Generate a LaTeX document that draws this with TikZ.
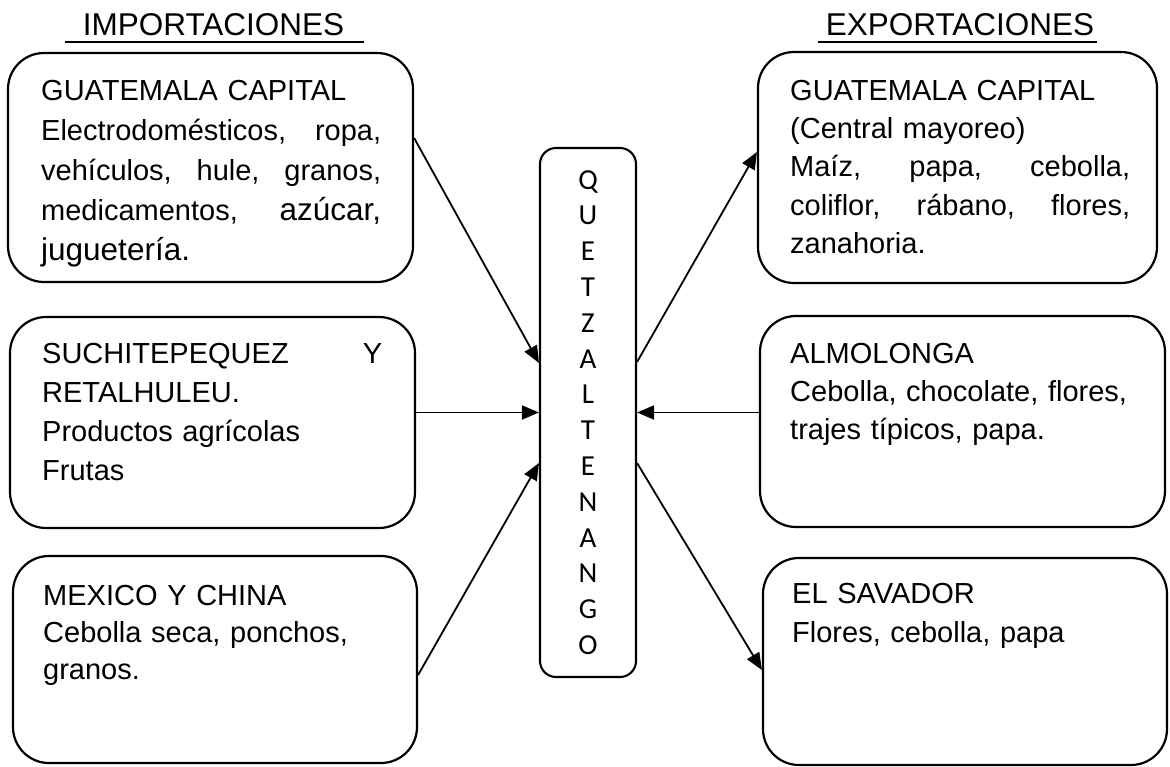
\documentclass[tikz,border=0pt]{standalone}
\usepackage{fontspec}
\setmainfont{Liberation Sans}
\newfontfamily\calfont{Carlito}
\usetikzlibrary{arrows.meta}
\newcommand{\jl}[1]{\makebox[340pt][l]{#1}}
\newcommand{\bigf}{\fontsize{31.5}{39}\selectfont}
\newcommand{\st}{\noindent\rule{0pt}{22pt}}
\begin{document}
\begin{tikzpicture}[x=1pt,y=-1pt,
  box/.style={draw, line width=2.2pt, rounded corners=36pt, inner sep=0pt},
  qbox/.style={draw, line width=2.1pt, rounded corners=16pt, inner sep=0pt, align=center,
    font=\calfont\fontsize{29}{35.8}\selectfont},
  txt/.style={anchor=north west, inner sep=0pt, text width=345pt},
  f39/.style={font=\fontsize{29}{39}\selectfont},
  f40/.style={font=\fontsize{29}{40}\selectfont},
  f38/.style={font=\fontsize{29}{38.3}\selectfont},
  f37/.style={font=\fontsize{29}{37}\selectfont},
  ttl/.style={inner sep=0pt, anchor=base, font=\fontsize{31.5}{36}\selectfont},
  arr/.style={line width=1.8pt, -{Triangle[length=17pt,width=14pt]}},
  ul/.style={line width=2pt}]
\useasboundingbox (0,0) rectangle (1170,766);

% titles
\node[ttl] (T1) at (213.5,35) {IMPORTACIONES};
\draw[ul] ([xshift=-18pt,yshift=-7pt]T1.base west) -- ([xshift=20pt,yshift=-7pt]T1.base east);
\node[ttl] (T2) at (960,35) {EXPORTACIONES};
\draw[ul] ([xshift=-8pt,yshift=-7pt]T2.base west) -- ([xshift=3pt,yshift=-7pt]T2.base east);

% boxes
\node[box, minimum width=405pt, minimum height=229pt] (L1) at (210.5,167.5) {};
\node[box, minimum width=405pt, minimum height=211pt] (L2) at (212.5,422.5) {};
\node[box, minimum width=404pt, minimum height=207pt] (L3) at (215,659.5) {};
\node[box, minimum width=399pt, minimum height=231pt] (R1) at (957.5,167.5) {};
\node[box, minimum width=405pt, minimum height=211pt] (R2) at (962.5,421.5) {};
\node[box, minimum width=404pt, minimum height=207pt] (R3) at (965,661.5) {};
\node[qbox, minimum width=96pt, minimum height=529pt] (Q) at (588,412.5)
  {Q\\U\\E\\T\\Z\\A\\L\\T\\E\\N\\A\\N\\G\\O};

% texts
\node[txt, f40] (tL1) at (41,78) {\st GUATEMALA CAPITAL\\
\jl{Electrodomésticos,\hfill ropa,}\\
\jl{vehículos,\hfill hule,\hfill granos,}\\
\jl{medicamentos,\hfill {\bigf azúcar,}}\\
{\bigf juguetería.}};
\node[txt, f39] (tL2) at (42,341) {\st\jl{SUCHITEPEQUEZ\hfill Y}\\
RETALHULEU.\\
Productos agrícolas\\
Frutas};
\node[txt, f37] (tL3) at (43,583) {\st MEXICO Y CHINA\\
Cebolla seca, ponchos,\\
granos.};
\node[txt, f38] (tR1) at (790,78) {\st GUATEMALA CAPITAL\\
(Central mayoreo)\\
\jl{Maíz,\hfill papa,\hfill cebolla,}\\
\jl{coliflor,\hfill rábano,\hfill flores,}\\
zanahoria.};
\node[txt, f38] (tR2) at (790,341) {\st ALMOLONGA\\
Cebolla, chocolate, flores,\\
trajes típicos, papa.};
\node[txt, f39] (tR3) at (792,581) {\st EL SAVADOR\\
Flores, cebolla, papa};

% connectors
\draw[arr] ([yshift=29.5pt]L1.east) -- ([yshift=49.5pt]Q.west);
\draw[arr] (L2.east |- Q.west) -- (Q.west);
\draw[arr] ([yshift=-15.5pt]L3.east) -- ([yshift=-50.5pt]Q.west);
\draw[arr] ([yshift=50.5pt]Q.east) -- ([yshift=15.5pt]R1.west);
\draw[arr] (R2.west |- Q.east) -- (Q.east);
\draw[arr] ([yshift=-50.5pt]Q.east) -- ([yshift=-8.5pt]R3.west);
\end{tikzpicture}
\end{document}
